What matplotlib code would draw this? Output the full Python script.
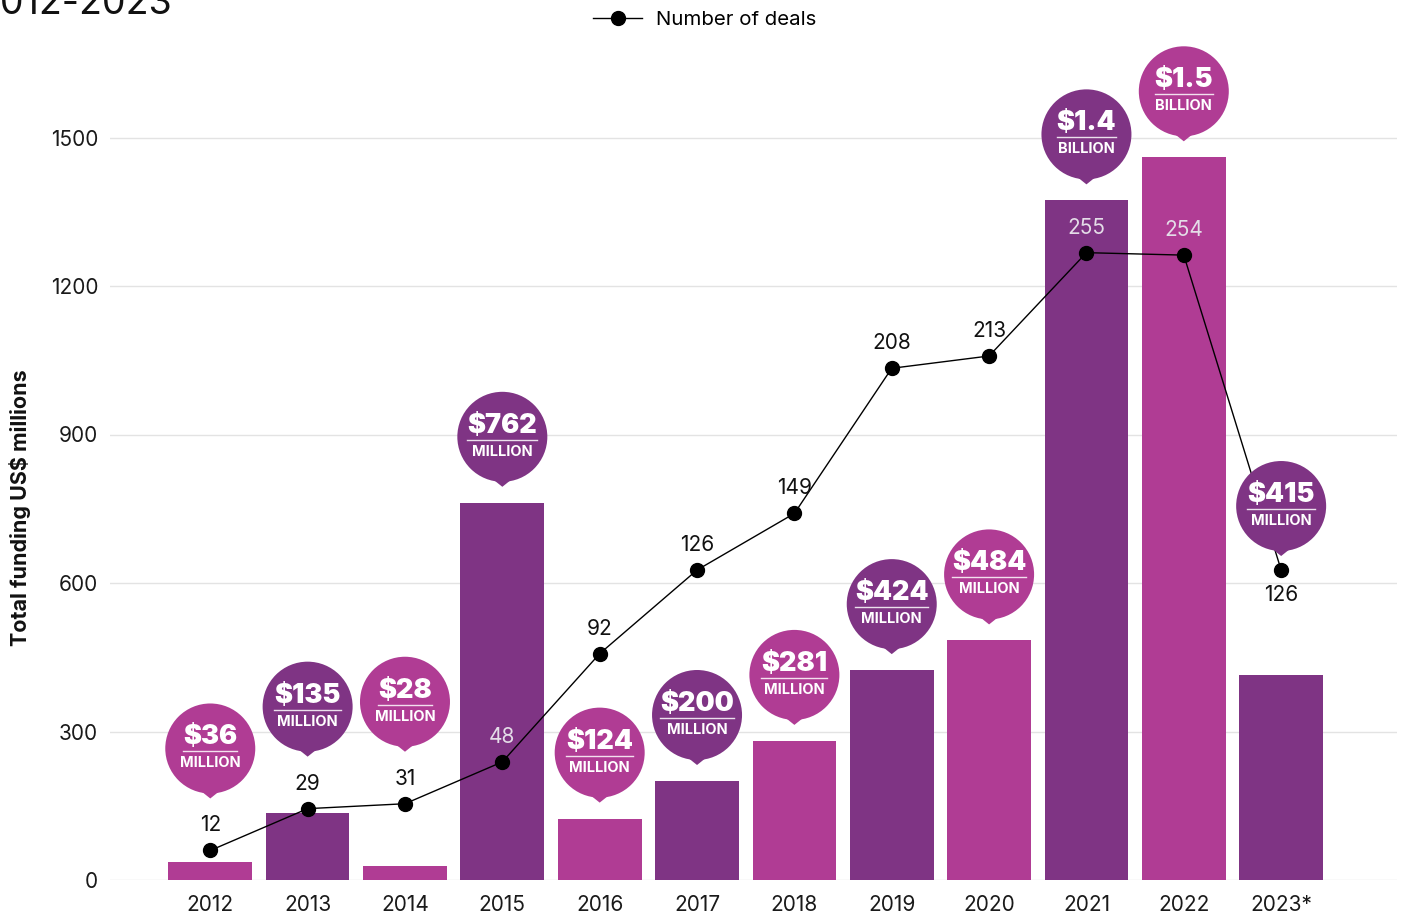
import matplotlib.pyplot as plt
import matplotlib.transforms as mtransforms
from matplotlib.lines import Line2D
from matplotlib.patches import Circle, Polygon
import numpy as np

years = ["2012", "2013", "2014", "2015", "2016", "2017", "2018", "2019", "2020", "2021", "2022", "2023*"]
funding = [36, 135, 28, 762, 124, 200, 281, 424, 484, 1373, 1460, 415]
deals = [12, 29, 31, 48, 92, 126, 149, 208, 213, 255, 254, 126]
bubble_amounts = ["$36", "$135", "$28", "$762", "$124", "$200", "$281", "$424", "$484", "$1.4", "$1.5", "$415"]
bubble_units = ["MILLION"] * 9 + ["BILLION", "BILLION", "MILLION"]
yticks = [0, 300, 600, 900, 1200, 1500]

magenta = "#b03c94"
purple = "#7f3484"
colors = [magenta if i % 2 == 0 else purple for i in range(len(years))]

plt.rcParams["font.family"] = ["Inter", "DejaVu Sans"]

W, H = 1404, 916
fig = plt.figure(figsize=(W / 100, H / 100), dpi=100)
ymax = 1600
ax = fig.add_axes([110 / W, 36 / H, 1287 / W, (0.495 * ymax) / H])
x = np.arange(len(years))

ax.bar(x, funding, width=0.86, color=colors, zorder=2)
ax.set_xlim(-1.03, 12.19)
ax.set_ylim(0, ymax)
ax.set_yticks(yticks)
ax.set_xticks(x, years)
ax.grid(axis="y", color="#e3e3e3", linewidth=1, zorder=0)
ax.set_axisbelow(True)
for s in ax.spines.values():
    s.set_visible(False)
ax.tick_params(axis="both", length=0, labelsize=15, colors="#1a1a1a")
ax.tick_params(axis="y", pad=8.5)
ax.tick_params(axis="x", pad=11)

# deals on a hidden second scale
ax2 = ax.twinx()
ax2.set_ylim(0, ymax / 4.97)
ax2.set_yticks([])
for s in ax2.spines.values():
    s.set_visible(False)
ax2.plot(x, deals, color="black", linewidth=1, marker="o", markersize=10, zorder=3)

fig.text(20 / W, 1 - 508 / H, "Total funding US$ millions", rotation=90,
         ha="center", va="center", fontsize=15.5, fontweight="bold", color="#111111")

fig.text(172 / W, 1 - 14 / H, "2012-2023", ha="right", va="baseline",
         fontsize=27, color="#111111")

handle = Line2D([], [], color="black", linewidth=1, marker="o", markersize=10)
fig.legend([handle], ["Number of deals"], loc="center", bbox_to_anchor=(705 / W, 1 - 20 / H),
           frameon=False, fontsize=14.7, handlelength=2.4, handletextpad=0.7)

# bubbles and deal labels, laid out in pixels
ident = mtransforms.IdentityTransform()
renderer = fig.canvas.get_renderer()
label_up = [True] * (len(years) - 1) + [False]
for i in range(len(years)):
    bar_top = ax.transData.transform((x[i], funding[i]))[1]
    px, py = ax2.transData.transform((x[i], deals[i]))
    up = label_up[i]
    ly = py + 25 if up else py - 25
    lab_col = "#e4dde8" if ly < bar_top else "#111111"
    ax2.text(px, ly, str(deals[i]), transform=ident, ha="center", va="center",
             fontsize=15, color=lab_col, zorder=4)

    tip = bar_top + 16
    if up:
        lo, hi = py - 7, py + 34
    else:
        lo, hi = py - 34, py + 7
    if tip < hi and lo < tip + 95:
        tip = hi + 18 if up else py + 14
    cx, cy = px, tip + 50
    ax2.add_patch(Circle((cx, cy), 45, transform=ident, color=colors[i],
                         zorder=5, clip_on=False, linewidth=0))
    ax2.add_patch(Polygon([(cx - 10, cy - 42), (cx + 10, cy - 42), (cx, tip)],
                          closed=True, transform=ident, color=colors[i],
                          zorder=5, clip_on=False, linewidth=0))
    t = ax2.text(cx, cy + 11, bubble_amounts[i], transform=ident, ha="center",
                 va="center", fontsize=19.5, fontweight=900, color="white",
                 zorder=6, clip_on=False)
    ax2.text(cx, cy - 15, bubble_units[i], transform=ident, ha="center",
             va="center", fontsize=10.5, fontweight="bold", color="white",
             zorder=6, clip_on=False)
    bb = t.get_window_extent(renderer)
    ax2.add_line(Line2D([bb.x0, bb.x1], [cy - 3, cy - 3], transform=ident,
                        color="white", linewidth=1, alpha=0.85, zorder=6,
                        clip_on=False))

fig.savefig("out.png", dpi=100)
